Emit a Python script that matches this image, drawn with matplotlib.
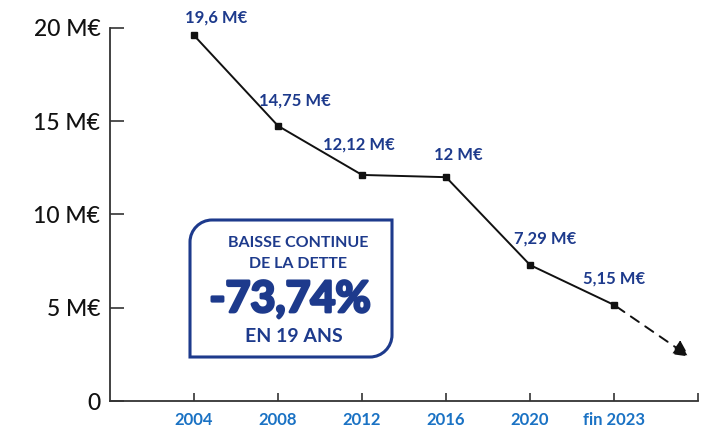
import matplotlib.pyplot as plt
import matplotlib.patheffects as pe
from matplotlib.path import Path
from matplotlib.patches import PathPatch

# Data
years = ['2004', '2008', '2012', '2016', '2020', 'fin 2023']
debt = [19.6, 14.75, 12.12, 12.0, 7.29, 5.15]
labels = ['19,6 M€', '14,75 M€', '12,12 M€', '12 M€', '7,29 M€', '5,15 M€']
yticks = [0, 5, 10, 15, 20]
ytick_labels = ['0', '5 M€', '10 M€', '15 M€', '20 M€']
trend_end = (5.92, 2.3)

# label offsets in points (style only)
offsets = [(16, 13), (12, 18), (-2, 22), (9, 16), (11, 19), (0, 19)]

navy = '#1d3a8c'
blue = '#1a72c4'
plt.rcParams['font.family'] = ['Lato', 'DejaVu Sans']

fig = plt.figure(figsize=(7.12, 4.30), dpi=100)
ax = fig.add_axes([0.1545, 0.0674, 0.826, 0.8676])

x = list(range(len(years)))
ax.plot(x, debt, color='#111111', lw=1.4, marker='s', ms=4.5, zorder=3)

# dashed trend arrow
ax.annotate('', xy=trend_end, xytext=(x[-1], debt[-1]),
            arrowprops=dict(arrowstyle='-|>', color='#111111', lw=1.4,
                            linestyle=(0, (5, 4)), mutation_scale=24))

for xi, yi, lab, off in zip(x, debt, labels, offsets):
    ax.annotate(lab, (xi, yi), xytext=off, textcoords='offset points',
                ha='center', va='center', color=navy, fontsize=12,
                fontweight='bold', annotation_clip=False)

ax.set_xlim(-1, 6)
ax.set_ylim(0, 20)
ax.set_xticks(x + [6])
ax.set_xticklabels(years + [''])
ax.set_yticks(yticks)
ax.set_yticklabels(ytick_labels)

for s in ['top', 'right']:
    ax.spines[s].set_visible(False)
for s in ['left', 'bottom']:
    ax.spines[s].set_color('#333333')
    ax.spines[s].set_linewidth(1.3)

ax.tick_params(axis='y', direction='in', length=10, width=1.2, color='#333333',
               labelsize=16.5, pad=7, labelcolor='#111111')
ax.tick_params(axis='x', direction='in', length=6, width=1.2, color='#333333',
               labelsize=12, pad=8, labelcolor=blue)
for t in ax.get_xticklabels():
    t.set_fontweight('bold')
for t in ax.get_yticklabels():
    t.set_fontweight('medium')

# info box with two rounded corners (top-left, bottom-right)
W, H = 712, 430
x0, x1, y0, y1 = 190, 392, 430 - 357, 430 - 220
r = 22
def p(px, py):
    return (px / W, py / H)
k = 0.45
verts = [p(x0, y0), p(x1 - r, y0),
         p(x1 - r * k, y0), p(x1, y0 + r * k), p(x1, y0 + r),
         p(x1, y1), p(x0 + r, y1),
         p(x0 + r * k, y1), p(x0, y1 - r * k), p(x0, y1 - r),
         p(x0, y0)]
codes = [Path.MOVETO, Path.LINETO,
         Path.CURVE4, Path.CURVE4, Path.CURVE4,
         Path.LINETO, Path.LINETO,
         Path.CURVE4, Path.CURVE4, Path.CURVE4,
         Path.CLOSEPOLY]
box = PathPatch(Path(verts, codes), transform=fig.transFigure,
                facecolor='white', edgecolor=navy, lw=2.2, zorder=5)
fig.patches.append(box)

fig.text(298 / W, 1 - 243 / H, 'BAISSE CONTINUE', ha='center', va='center',
         color=navy, fontsize=11.5, fontweight='bold', zorder=6)
fig.text(298 / W, 1 - 264 / H, 'DE LA DETTE', ha='center', va='center',
         color=navy, fontsize=11.5, fontweight='bold', zorder=6)
fig.text(290 / W, 1 - 299 / H, '-73,74%', ha='center', va='center',
         color=navy, fontsize=31, fontweight='bold', zorder=6,
         path_effects=[pe.withStroke(linewidth=2, foreground=navy)])
fig.text(294 / W, 1 - 337 / H, 'EN 19 ANS', ha='center', va='center',
         color=navy, fontsize=14, fontweight='bold', zorder=6)

fig.savefig('out.png', dpi=100)
